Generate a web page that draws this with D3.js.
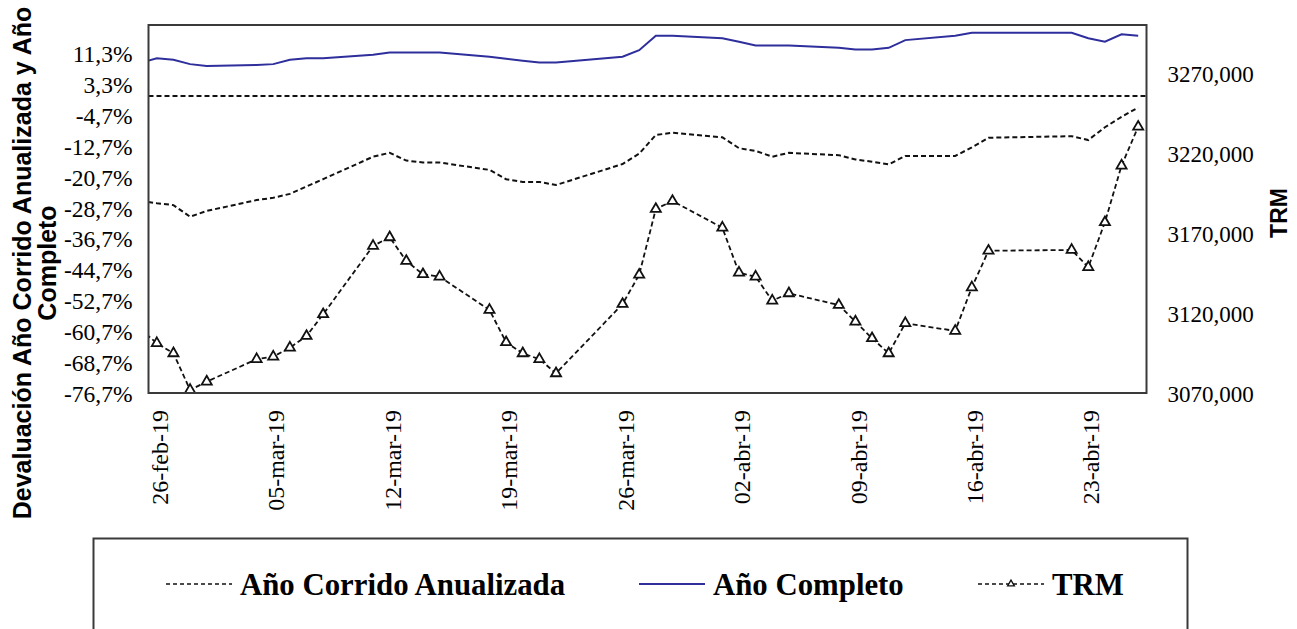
<!DOCTYPE html>
<html>
<head>
<meta charset="utf-8">
<script src="https://cdn.jsdelivr.net/npm/d3@7"></script>
<style>
  body { margin: 0; background: #fff; }
  svg { display: block; }
</style>
</head>
<body>
<svg id="chart" width="1297" height="629"></svg>
<script>
// Trading days (the first one sits just left of the visible window)
const dates = [
  "2019-02-25", "2019-02-26", "2019-02-27", "2019-02-28", "2019-03-01",
  "2019-03-04", "2019-03-05", "2019-03-06", "2019-03-07", "2019-03-08",
  "2019-03-11", "2019-03-12", "2019-03-13", "2019-03-14", "2019-03-15",
  "2019-03-18", "2019-03-19", "2019-03-20", "2019-03-21", "2019-03-22",
  "2019-03-26", "2019-03-27", "2019-03-28", "2019-03-29",
  "2019-04-01", "2019-04-02", "2019-04-03", "2019-04-04", "2019-04-05",
  "2019-04-08", "2019-04-09", "2019-04-10", "2019-04-11", "2019-04-12",
  "2019-04-15", "2019-04-16", "2019-04-17",
  "2019-04-22", "2019-04-23", "2019-04-24", "2019-04-25", "2019-04-26"
];

// Devaluación año corrido anualizada (%)
const anioCorrido = [
  -27.1, -27.7, -28.2, -31.2, -29.7,
  -26.9, -26.3, -25.3, -23.4, -21.5,
  -15.7, -14.7, -16.7, -17.2, -17.2,
  -19.1, -21.5, -22.2, -22.2, -23.0,
  -17.6, -14.9, -10.1, -9.5,
  -10.7, -13.5, -14.2, -15.7, -14.7,
  -15.3, -16.4, -17.0, -17.7, -15.5,
  -15.5, -13.3, -10.8,
  -10.4, -11.4, -8.1, -5.4, -3.0
];

// Devaluación año completo (%)
const anioCompleto = [
  8.5, 9.7, 9.3, 8.2, 7.7,
  8.0, 8.2, 9.3, 9.7, 9.7,
  10.6, 11.2, 11.2, 11.2, 11.2,
  10.1, 9.6, 9.1, 8.6, 8.6,
  10.1, 11.8, 15.5, 15.5,
  14.9, 14.0, 13.0, 13.0, 13.0,
  12.4, 12.0, 12.0, 12.4, 14.4,
  15.5, 16.3, 16.3,
  16.3, 14.9, 14.0, 15.9, 15.5
];

// Tasa representativa del mercado (COP por USD)
const trm = [
  3110.0, 3101.1, 3094.8, 3071.9, 3077.1,
  3091.1, 3092.7, 3098.3, 3105.6, 3119.2,
  3161.9, 3167.3, 3152.5, 3144.2, 3142.7,
  3121.9, 3101.7, 3094.8, 3091.1, 3082.3,
  3125.6, 3143.9, 3185.0, 3190.0,
  3173.3, 3145.2, 3142.7, 3127.7, 3132.3,
  3125.0, 3114.6, 3104.2, 3094.8, 3113.6,
  3108.8, 3136.0, 3158.9,
  3159.4, 3148.6, 3176.7, 3212.1, 3236.4
];

const xTickDates = ["2019-02-26", "2019-03-05", "2019-03-12", "2019-03-19", "2019-03-26",
                    "2019-04-02", "2019-04-09", "2019-04-16", "2019-04-23"];
const leftTicks = [-76.7, -68.7, -60.7, -52.7, -44.7, -36.7, -28.7, -20.7, -12.7, -4.7, 3.3, 11.3];
const rightTicks = [3070, 3120, 3170, 3220, 3270];
const monthsEs = ["ene", "feb", "mar", "abr", "may", "jun", "jul", "ago", "sep", "oct", "nov", "dic"];
const seriesNames = ["Año Corrido Anualizada", "Año Completo", "TRM"];
const leftTitle = ["Devaluación Año Corrido Anualizada y Año", "Completo"];
const rightTitle = "TRM";

const parse = d3.utcParse("%Y-%m-%d");
const rows = dates.map((d, i) => ({
  date: parse(d), corrido: anioCorrido[i], completo: anioCompleto[i], trm: trm[i]
}));

const plot = { left: 148.5, right: 1146.5, top: 25, bottom: 393 };
const svg = d3.select("#chart");

// Date axis: each day is a slot, points sit at the middle of their day
const x = d3.scaleUtc()
  .domain([d3.utcHour.offset(parse("2019-02-26"), -12), d3.utcHour.offset(parse("2019-04-26"), 12)])
  .range([plot.left, plot.right]);
const yL = d3.scaleLinear().domain([-76.7, 18.3]).range([plot.bottom, plot.top]);
const yR = d3.scaleLinear().domain([3070, 3300]).range([plot.bottom, plot.top]);

const serif = "'Liberation Serif', 'Times New Roman', serif";
const sans = "'Liberation Sans', Arial, sans-serif";
const blue = "#2e2e9c";

svg.append("defs").append("clipPath").attr("id", "plot-clip")
  .append("rect")
  .attr("x", plot.left).attr("y", plot.top)
  .attr("width", plot.right - plot.left).attr("height", plot.bottom - plot.top);

const fmtPct = v => d3.format(".1f")(v).replace(".", ",").replace("−", "-") + "%";
const fmtTrm = v => d3.format("d")(v) + ",000";
const fmtDate = d => d3.utcFormat("%d")(d) + "-" + monthsEs[d.getUTCMonth()] + "-" + d3.utcFormat("%y")(d);

// Left axis
const axL = d3.axisLeft(yL).tickValues(leftTicks).tickSize(0).tickPadding(0).tickFormat(fmtPct);
svg.append("g").attr("transform", `translate(${plot.left - 16},0)`).call(axL)
  .call(g => g.select(".domain").remove())
  .selectAll("text").attr("font-family", serif).attr("font-size", 23.5).attr("fill", "#000")
  .attr("dy", "0.38em");

// Right axis
const axR = d3.axisRight(yR).tickValues(rightTicks).tickSize(0).tickPadding(0).tickFormat(fmtTrm);
svg.append("g").attr("transform", `translate(${plot.right + 21},0)`).call(axR)
  .call(g => g.select(".domain").remove())
  .selectAll("text").attr("font-family", serif).attr("font-size", 23).attr("fill", "#000")
  .attr("dy", "0.38em");

// Bottom axis with vertical date labels
const axB = d3.axisBottom(x).tickValues(xTickDates.map(parse)).tickSize(0).tickFormat(fmtDate);
svg.append("g").attr("transform", `translate(0,${plot.bottom})`).call(axB)
  .call(g => g.select(".domain").remove())
  .selectAll("text")
  .attr("font-family", serif).attr("font-size", 24).attr("fill", "#000")
  .attr("text-anchor", "end")
  .attr("transform", "translate(2,17) rotate(-90)")
  .attr("x", 0).attr("y", 0).attr("dy", "0.36em");

// Series
const gLines = svg.append("g").attr("clip-path", "url(#plot-clip)");

gLines.append("line")
  .attr("x1", plot.left).attr("x2", plot.right)
  .attr("y1", yL(0)).attr("y2", yL(0))
  .attr("stroke", "#111").attr("stroke-width", 2).attr("stroke-dasharray", "5,3");

gLines.append("path").datum(rows)
  .attr("fill", "none").attr("stroke", blue).attr("stroke-width", 2)
  .attr("d", d3.line().x(d => x(d.date)).y(d => yL(d.completo)));

gLines.append("path").datum(rows)
  .attr("fill", "none").attr("stroke", "#111").attr("stroke-width", 2)
  .attr("stroke-dasharray", "5,3")
  .attr("d", d3.line().x(d => x(d.date)).y(d => yL(d.corrido)));

gLines.append("path").datum(rows)
  .attr("fill", "none").attr("stroke", "#111").attr("stroke-width", 1.8)
  .attr("stroke-dasharray", "5,3")
  .attr("d", d3.line().x(d => x(d.date)).y(d => yR(d.trm)));

const tri = d3.symbol().type(d3.symbolTriangle).size(44);
gLines.selectAll(".trm-marker").data(rows).join("path")
  .attr("class", "trm-marker")
  .attr("transform", d => `translate(${x(d.date)},${yR(d.trm)})`)
  .attr("d", tri)
  .attr("fill", "#fff").attr("stroke", "#111").attr("stroke-width", 1.8);

// Plot frame
svg.append("rect")
  .attr("x", plot.left).attr("y", plot.top)
  .attr("width", plot.right - plot.left).attr("height", plot.bottom - plot.top)
  .attr("fill", "none").attr("stroke", "#3a3a3a").attr("stroke-width", 2);

// Axis titles
const lt = svg.append("text")
  .attr("transform", "translate(0,263) rotate(-90)")
  .attr("font-family", sans).attr("font-weight", "bold").attr("font-size", 25)
  .attr("text-anchor", "middle").attr("fill", "#000");
lt.append("tspan").attr("x", 0).attr("y", 31).text(leftTitle[0]);
lt.append("tspan").attr("x", 0).attr("y", 56).text(leftTitle[1]);

svg.append("text")
  .attr("transform", "translate(1287,213) rotate(-90)")
  .attr("font-family", sans).attr("font-weight", "bold").attr("font-size", 23)
  .attr("text-anchor", "middle").attr("fill", "#000")
  .text(rightTitle);

// Legend
const lg = svg.append("g");
lg.append("rect")
  .attr("x", 93.5).attr("y", 538.5).attr("width", 1094).attr("height", 140)
  .attr("fill", "#fff").attr("stroke", "#3a3a3a").attr("stroke-width", 2);

const legendY = 584;
const items = [
  { name: seriesNames[0], x0: 166, stroke: "#111", dash: "4,3", width: 1.5, marker: false },
  { name: seriesNames[1], x0: 639, stroke: blue, dash: null, width: 2, marker: false },
  { name: seriesNames[2], x0: 978, stroke: "#111", dash: "4,3", width: 1.5, marker: true }
];
items.forEach(it => {
  const sample = 66;
  lg.append("line")
    .attr("x1", it.x0).attr("x2", it.x0 + sample)
    .attr("y1", legendY).attr("y2", legendY)
    .attr("stroke", it.stroke).attr("stroke-width", it.width)
    .attr("stroke-dasharray", it.dash);
  if (it.marker) {
    lg.append("path")
      .attr("transform", `translate(${it.x0 + sample / 2},${legendY})`)
      .attr("d", d3.symbol().type(d3.symbolTriangle).size(20))
      .attr("fill", "#fff").attr("stroke", "#111").attr("stroke-width", 1.3);
  }
  lg.append("text")
    .attr("x", it.x0 + sample + 8).attr("y", 595)
    .attr("font-family", serif).attr("font-weight", "bold").attr("font-size", 30.8)
    .attr("fill", "#000")
    .text(it.name);
});
</script>
</body>
</html>
